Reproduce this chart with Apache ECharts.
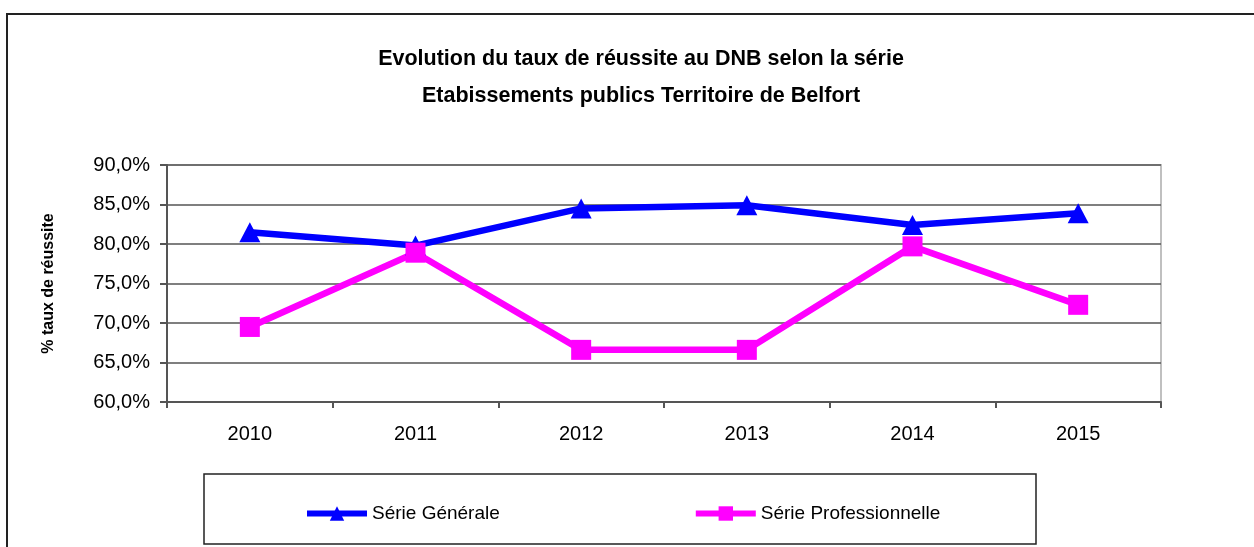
<!DOCTYPE html>
<html>
<head>
<meta charset="utf-8">
<script src="https://cdn.jsdelivr.net/npm/echarts@6/dist/echarts.min.js"></script>
<style>
  html, body { margin: 0; padding: 0; background: #fff; }
  #chart { width: 1254px; height: 547px; }
</style>
</head>
<body>
<div id="chart"></div>
<script>
// data (percent)
const years = ['2010', '2011', '2012', '2013', '2014', '2015']
const serieGenerale = [81.5, 79.8, 84.5, 84.9, 82.4, 83.9]
const serieProfessionnelle = [69.5, 78.9, 66.6, 66.6, 79.7, 72.3]
const seriesNames = ['Série Générale', 'Série Professionnelle']

const font = '"Liberation Sans", Arial, sans-serif'

const chart = echarts.init(document.getElementById('chart'))
chart.setOption({
  animation: false,
  backgroundColor: '#fff',
  textStyle: { fontFamily: font },
  title: {
    text: 'Evolution du taux de réussite au DNB selon la série\nEtabissements publics Territoire de Belfort',
    left: 636,
    top: 36,
    textAlign: 'center',
    textStyle: {
      fontFamily: font,
      fontSize: 21.5,
      fontWeight: 'bold',
      color: '#000',
      lineHeight: 37
    }
  },
  graphic: [
    {
      type: 'rect',
      shape: { x: 7, y: 14, width: 1300, height: 600 },
      style: { fill: 'none', stroke: '#222', lineWidth: 2 },
      silent: true
    },
    {
      type: 'rect',
      shape: { x: 204, y: 474, width: 832, height: 70 },
      style: { fill: 'none', stroke: '#222', lineWidth: 1.5 },
      silent: true
    }
  ],
  legend: {
    left: 299,
    top: 499,
    itemGap: 193,
    itemWidth: 60,
    itemHeight: 18,
    lineStyle: { width: 6 },
    textStyle: { fontFamily: font, fontSize: 19, color: '#000' },
    data: seriesNames
  },
  grid: {
    left: 167,
    top: 165,
    right: 93,
    bottom: 145,
    show: true,
    borderColor: '#c0c0c0',
    borderWidth: 2
  },
  xAxis: {
    type: 'category',
    data: years,
    boundaryGap: true,
    axisLine: { lineStyle: { color: '#555', width: 2 } },
    axisTick: { show: true, interval: 0, length: 6, lineStyle: { color: '#555', width: 2 } },
    axisLabel: { fontFamily: font, fontSize: 20, color: '#000', margin: 22 }
  },
  yAxis: {
    type: 'value',
    min: 60,
    max: 90,
    interval: 5,
    name: '% taux de réussite',
    nameLocation: 'middle',
    nameGap: 110,
    nameTextStyle: { fontFamily: font, fontSize: 16, fontWeight: 'bold', color: '#000' },
    axisLine: { show: true, lineStyle: { color: '#555', width: 2 } },
    axisTick: { show: true, length: 7, lineStyle: { color: '#555', width: 2 } },
    splitLine: { lineStyle: { color: '#555', width: 1.5 } },
    axisLabel: {
      fontFamily: font,
      fontSize: 20,
      color: '#000',
      margin: 17,
      formatter: v => v.toFixed(1).replace('.', ',') + '%'
    }
  },
  series: [
    {
      name: seriesNames[0],
      type: 'line',
      data: serieGenerale,
      symbol: 'triangle',
      symbolSize: [21, 20],
      lineStyle: { color: '#0000ff', width: 6.5 },
      itemStyle: { color: '#0000ff' }
    },
    {
      name: seriesNames[1],
      type: 'line',
      data: serieProfessionnelle,
      symbol: 'rect',
      symbolSize: 20,
      lineStyle: { color: '#ff00ff', width: 6.5 },
      itemStyle: { color: '#ff00ff' }
    }
  ]
})
</script>
</body>
</html>
